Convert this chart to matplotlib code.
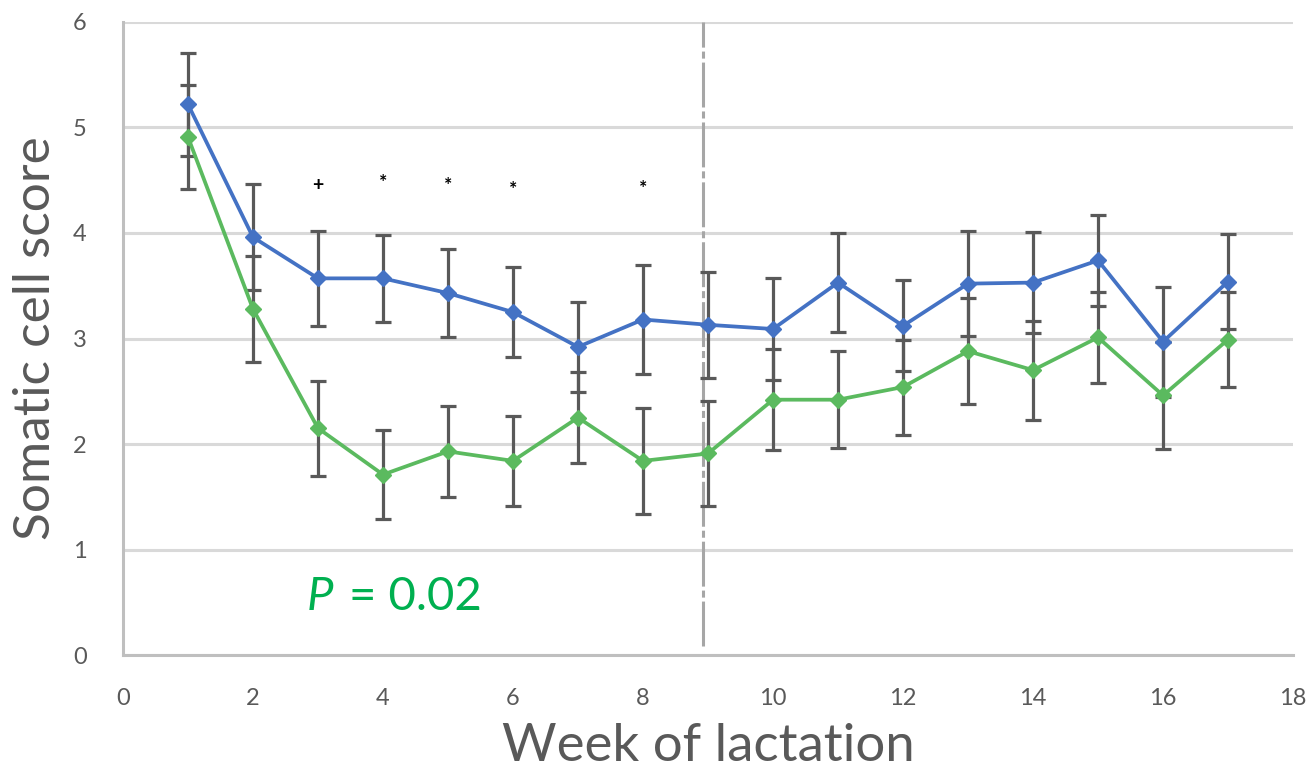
import matplotlib
matplotlib.use("Agg")
import matplotlib.pyplot as plt

# Somatic cell score by week of lactation
weeks = list(range(1, 18))
blue = [5.22, 3.96, 3.57, 3.57, 3.43, 3.25, 2.92, 3.18, 3.13, 3.09, 3.53, 3.12, 3.52, 3.53, 3.74, 2.97, 3.54]
blue_err = [0.49, 0.50, 0.45, 0.41, 0.42, 0.43, 0.43, 0.52, 0.50, 0.48, 0.47, 0.43, 0.50, 0.48, 0.43, 0.52, 0.45]
green = [4.91, 3.28, 2.15, 1.71, 1.93, 1.84, 2.25, 1.84, 1.91, 2.42, 2.42, 2.54, 2.88, 2.70, 3.01, 2.46, 2.99]
green_err = [0.49, 0.50, 0.45, 0.42, 0.43, 0.43, 0.43, 0.50, 0.50, 0.48, 0.46, 0.45, 0.50, 0.47, 0.43, 0.51, 0.45]

# significance marks above the curves
sig_weeks = [3, 4, 5, 6, 8]
sig_marks = ['+', '*', '*', '*', '*']
sig_y = [4.45, 4.48, 4.45, 4.41, 4.42]

x_ticks = list(range(0, 20, 2))
y_ticks = list(range(0, 7))
split_week = 8.93

plt.rcParams['font.family'] = ['Lato', 'DejaVu Sans']
gray = '#595959'

fig = plt.figure(figsize=(13.11, 7.77), dpi=100)
ax = fig.add_axes([0.0938, 0.157, 0.8925, 0.8147])

for vals, errs, col in [(blue, blue_err, '#4472C4'), (green, green_err, '#5BBA5F')]:
    ax.errorbar(weeks, vals, yerr=errs, fmt='none', ecolor=gray, elinewidth=2.3,
                capsize=5.5, capthick=2.3, zorder=3)
    ax.plot(weeks, vals, color=col, lw=2.7, marker='D', markersize=8, zorder=4)

ax.axvline(split_week, ymin=0.015, ymax=1.0, color='#A6A6A6', lw=2.2,
           dashes=(14.7, 1.3, 2.3, 1.3), zorder=2)
ax.set_ylim(0, 6)
ax.set_xlim(0, 18)

for wk, mk, yv in zip(sig_weeks, sig_marks, sig_y):
    ax.text(wk, yv, mk, ha='center', va='center', fontsize=14,
            fontweight='bold', color='black', zorder=5)

ax.text(2.83, 0.55, 'P', color='#00B050', fontsize=34, va='center', ha='left',
        fontstyle='italic')
ax.text(3.48, 0.55, '= 0.02', color='#00B050', fontsize=34, va='center', ha='left')

ax.set_xticks(x_ticks)
ax.set_yticks(y_ticks)
ax.tick_params(length=0, labelsize=17, labelcolor=gray)
ax.tick_params(axis='x', pad=24)
ax.tick_params(axis='y', pad=26)
ax.grid(axis='y', color='#D9D9D9', lw=2.2, zorder=0)
ax.set_axisbelow(True)
for s in ['top', 'right']:
    ax.spines[s].set_visible(False)
for s in ['left', 'bottom']:
    ax.spines[s].set_color('#BFBFBF')
    ax.spines[s].set_linewidth(2.2)

ax.set_xlabel('Week of lactation', fontsize=38, color=gray, labelpad=10)
ax.set_ylabel('Somatic cell score', fontsize=37, color=gray, labelpad=10)

fig.savefig('out.png', dpi=100)
